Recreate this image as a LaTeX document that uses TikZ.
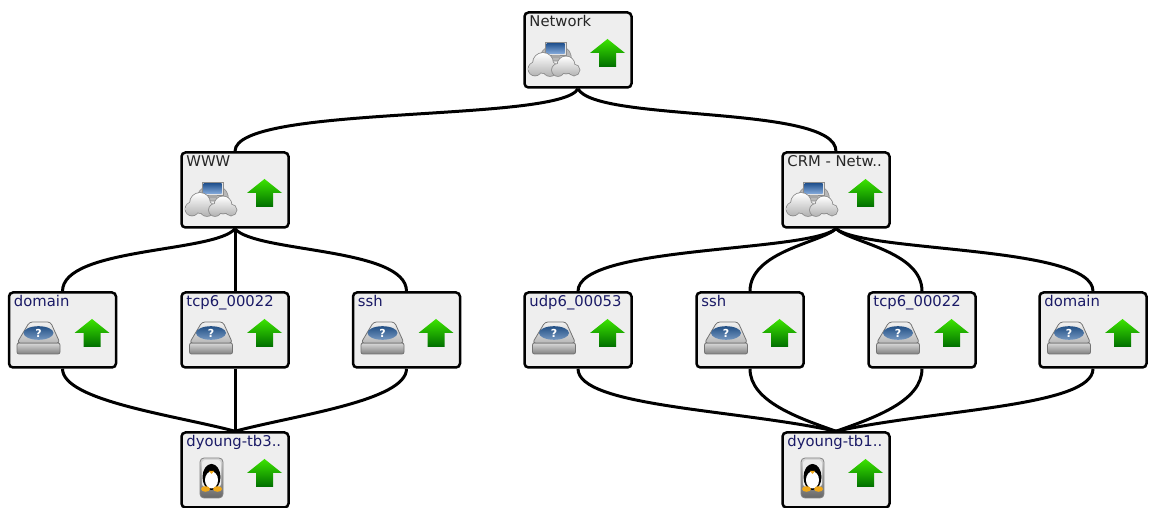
\documentclass[tikz,border=0pt]{standalone}
\usepackage{fontspec}
\setmainfont{DejaVu Sans}
\usepackage{tikz}
\usetikzlibrary{calc}
\definecolor{boxgray}{HTML}{EEEEEE}
\definecolor{svcblue}{HTML}{1A1A66}
\definecolor{monblue}{HTML}{2F6FC0}
\definecolor{diskblue}{HTML}{2A5F9E}
\definecolor{arrowtop}{HTML}{3CE400}
\definecolor{arrowbot}{HTML}{006E00}
\definecolor{tuxfoot}{HTML}{F0A818}
\tikzset{
  box/.style={draw=black,line width=2.5pt,rounded corners=4pt,fill=boxgray,minimum width=107pt,minimum height=75pt,inner sep=0pt},
  netlbl/.style={anchor=north west,inner sep=0pt,xshift=6pt,yshift=-4pt,text=black!85,font=\fontsize{14.8}{16}\selectfont},
  svclbl/.style={netlbl,text=svcblue},
  link/.style={draw=black,line width=3pt},
  puffline/.style={draw=black!45,line width=1.6pt},
  puffshade/.style={top color=white,bottom color=black!30},
  uparrow/.pic={
    \shade[top color=arrowtop,bottom color=arrowbot]
      (29.5,11) -- (47,-3) -- (38,-3) -- (38,-17) -- (21,-17) -- (21,-3) -- (12,-3) -- cycle;
  },
  cloudicon/.pic={
    \fill[black!28,draw=black!45,line width=0.6pt,rounded corners=6pt] (-40,-11) -- (-34,3) -- (-10,3) -- (-5,-11) -- cycle;
    \draw[draw=black!45,fill=black!10,line width=0.8pt] (-33,8) rectangle (-12,-5);
    \shade[top color=monblue!75!black,bottom color=monblue!60!white] (-31.5,6.5) rectangle (-13.5,-3.5);
    \fill[black!35] (-26,-5) rectangle (-18,-8);
    \path[puffline] (-43,-19) circle (6.5) (-35,-13) circle (10) (-28,-19) circle (7);
    \shade[puffshade] (-43,-19) circle (6.5) (-35,-13) circle (10) (-28,-19) circle (7);
    \path[puffline] (-20,-20) circle (6) (-12,-15) circle (8.5) (-4,-20) circle (5.5);
    \shade[puffshade] (-20,-20) circle (6) (-12,-15) circle (8.5) (-4,-20) circle (5.5);
  },
  diskicon/.pic={
    \shade[top color=black!15,bottom color=black!50,draw=black!55,line width=0.8pt,rounded corners=2pt]
      (-45.5,-13) rectangle (-2.5,-24);
    \shade[top color=black!5,bottom color=black!28,draw=black!55,line width=0.8pt,rounded corners=3pt]
      (-33,8) -- (-12,8) -- (-2.5,-13) -- (-45.5,-13) -- cycle;
    \shade[top color=diskblue!85!black,bottom color=diskblue!65!white] (-24,-3) ellipse (15 and 6.8);
    \node[text=white,inner sep=0pt,font=\fontsize{11}{11}\bfseries\selectfont] (qm) at (-24,-3) {?};
  },
  tuxicon/.pic={
    \shade[top color=black!15,bottom color=black!60,draw=black!50,line width=0.8pt,rounded corners=4pt]
      (-35,12) rectangle (-12,-28);
    \fill[black!8,rounded corners=3pt] (-33,10) rectangle (-14,-17);
    \fill[black] (-23.5,-7) ellipse (9 and 13);
    \fill[black] (-23.5,1) circle (5);
    \fill[white] (-23.5,-10) ellipse (6.5 and 8.5);
    \fill[tuxfoot] (-26,-1) -- (-21,-1) -- (-23.5,-4) -- cycle;
    \fill[tuxfoot] (-29.5,-19) ellipse (4.5 and 2.8);
    \fill[tuxfoot] (-17.5,-19) ellipse (4.5 and 2.8);
  }
}
\begin{document}
\begin{tikzpicture}[x=1pt,y=1pt]
\useasboundingbox (0,0) rectangle (1151,508);

\node[box,label={[netlbl]north west:Network}] (net) at (578,458) {};
\node[box,label={[netlbl]north west:WWW}] (www) at (235,318) {};
\node[box,label={[netlbl]north west:CRM - Netw..}] (crm) at (836,318) {};

\node[box,label={[svclbl]north west:domain}] (wdomain) at (62.5,178) {};
\node[box,label={[svclbl]north west:tcp6\_00022}] (wtcp) at (235,178) {};
\node[box,label={[svclbl]north west:ssh}] (wssh) at (406.5,178) {};
\node[box,label={[svclbl]north west:udp6\_00053}] (cudp) at (578,178) {};
\node[box,label={[svclbl]north west:ssh}] (cssh) at (750,178) {};
\node[box,label={[svclbl]north west:tcp6\_00022}] (ctcp) at (922,178) {};
\node[box,label={[svclbl]north west:domain}] (cdomain) at (1093,178) {};

\node[box,label={[svclbl]north west:dyoung-tb3..}] (tbthree) at (235,38) {};
\node[box,label={[svclbl]north west:dyoung-tb1..}] (tbone) at (836,38) {};

\pic at (net) {cloudicon}; \pic at (net) {uparrow};
\pic at (www) {cloudicon}; \pic at (www) {uparrow};
\pic at (crm) {cloudicon}; \pic at (crm) {uparrow};
\pic at (wdomain) {diskicon}; \pic at (wdomain) {uparrow};
\pic at (wtcp) {diskicon}; \pic at (wtcp) {uparrow};
\pic at (wssh) {diskicon}; \pic at (wssh) {uparrow};
\pic at (cudp) {diskicon}; \pic at (cudp) {uparrow};
\pic at (cssh) {diskicon}; \pic at (cssh) {uparrow};
\pic at (ctcp) {diskicon}; \pic at (ctcp) {uparrow};
\pic at (cdomain) {diskicon}; \pic at (cdomain) {uparrow};
\pic at (tbthree) {tuxicon}; \pic at (tbthree) {uparrow};
\pic at (tbone) {tuxicon}; \pic at (tbone) {uparrow};

\draw[link] (net.south) .. controls +(-18,-34) and +(0,47) .. (www.north);
\draw[link] (net.south) .. controls +(18,-34) and +(0,47) .. (crm.north);

\draw[link] (www.south) .. controls +(-20,-24) and +(0,44) .. (wdomain.north);
\draw[link] (www.south) -- (wtcp.north);
\draw[link] (www.south) .. controls +(20,-24) and +(0,44) .. (wssh.north);

\draw[link] (crm.south) .. controls +(-30,-24) and +(0,46) .. (cudp.north);
\draw[link] (crm.south) .. controls +(-15,-14) and +(0,40) .. (cssh.north);
\draw[link] (crm.south) .. controls +(15,-14) and +(0,40) .. (ctcp.north);
\draw[link] (crm.south) .. controls +(30,-24) and +(0,46) .. (cdomain.north);

\draw[link] (wdomain.south) .. controls +(0,-32) and +(-60,16) .. (tbthree.north);
\draw[link] (wtcp.south) -- (tbthree.north);
\draw[link] (wssh.south) .. controls +(0,-32) and +(60,16) .. (tbthree.north);

\draw[link] (cudp.south) .. controls +(0,-38) and +(-100,22) .. (tbone.north);
\draw[link] (cssh.south) .. controls +(0,-32) and +(-40,14) .. (tbone.north);
\draw[link] (ctcp.south) .. controls +(0,-32) and +(40,14) .. (tbone.north);
\draw[link] (cdomain.south) .. controls +(0,-38) and +(100,22) .. (tbone.north);
\end{tikzpicture}
\end{document}
